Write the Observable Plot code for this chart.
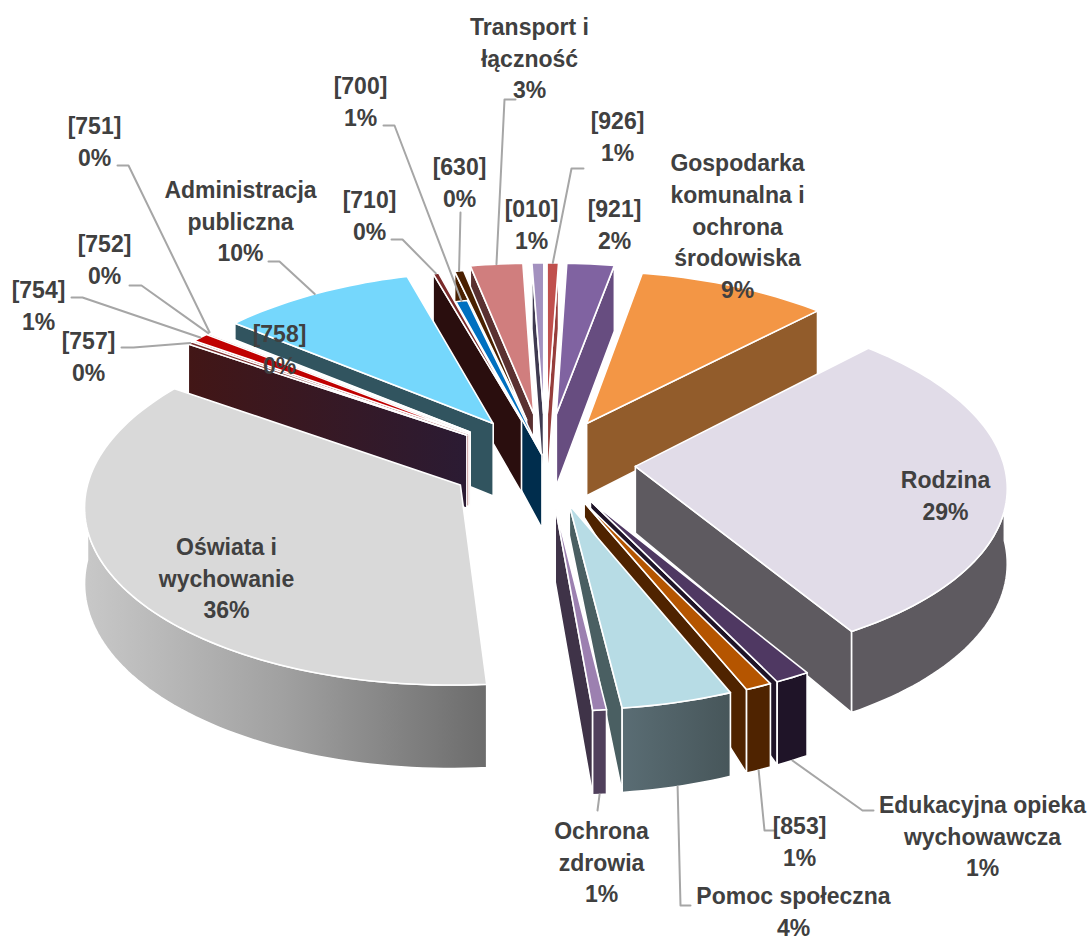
<!DOCTYPE html>
<html><head><meta charset="utf-8">
<script src="https://cdn.jsdelivr.net/npm/d3@7"></script>
<script src="https://cdn.jsdelivr.net/npm/@observablehq/plot@0.6"></script>
<style>html,body{margin:0;padding:0;background:#fff}svg{display:block}</style>
</head><body><div id="chart"></div>
<script>
// slices, clockwise from the first slice angle
const names   = ["Gospodarka","Rodzina","Edukacyjna","853","Pomoc","Ochrona","Oswiata","757","754","752","751","758","Administracja","710","700","630","Transport","010","926","921"];
const values  = [9.33,29.17,1.36,1.03,4.31,0.53,35.97,0.28,0.83,0.08,0.08,0.11,9.58,0.28,0.56,0.44,2.58,0.58,0.56,2.33];
const explode = [.25,.245,.25,.25,.25,.25,.264,.265,.265,.267,.268,.27,.265,.25,.04,.25,.28,.28,.28,.28];
const apexWall= [1,.9,.1,.2,.4,1,1,1,1,1,1,1,1,1,1,1,1,1,1,1];
const topFill = ["#f39645","#e1dce8","#4f3862","#b55500","#b7dce5","#9c80b0","#d9d9d9","#7b2b2b","#c00000","#d8a0a0","#d9b8b8","#e0c8c8","#75d7fc","#7a2a2a","#0070c0","#4a2000","#d07e7e","#a391bf","#c0504d","#8063a1"];
const edgeFill= ["#925c2b","#5e5a60","#1f1428","#4f2300","#4a5f62","#3f3348","#6f6f6f","url(#g757)","#7a1010","#a07070","#a08080","#a09090","#31545f","#2a0e0e","#002d4d","#4a2000","#5a3030","#3f3a50","#963e3c","#674d80"];
const outerFill=["#925c2b","#5e5a60","#1f1428","#4f2300","url(#gPomoc)","#50405c","url(#gOswiata)","#401515","#7a1010","#a07070","#a08080","#a09090","#31545f","#2a0e0e","#002d4d","#4a2000","#5a3030","#3f3a50","#963e3c","#674d80"];

// labels: text, centre x, middle y
const labelText = ["Transport i\nłączność\n3%","[926]\n1%","[921]\n2%","[010]\n1%","[630]\n0%","[700]\n1%","[710]\n0%","[751]\n0%","Administracja\npubliczna\n10%","[752]\n0%","[754]\n1%","[757]\n0%","[758]\n0%","Gospodarka\nkomunalna i\nochrona\nśrodowiska\n9%","Rodzina\n29%","Oświata i\nwychowanie\n36%","Ochrona\nzdrowia\n1%","Pomoc społeczna\n4%","[853]\n1%","Edukacyjna opieka\nwychowawcza\n1%"];
const labelX = [529,617,614,531,459,360,369,94,240,104,38,88,279,737,945,226,601,793,799,982];
const labelY = [56,134,222,222,180,99,213,139,219,257,303,354,347,224,493,576,860,909,839,834];

// leader lines: slice, label-side points, fraction across the slice's arc
const leaderSlice = ["Transport","926","630","700","710","751","Administracja","752","754","757","Ochrona","Pomoc","853","Edukacyjna"];
const leaderPath  = [[[515,99],[504,99]],[[583,168],[571,168]],[[460,212]],[[383,125],[394,125]],[[391,239],[402,239]],[[117,165],[128,165]],[[268,261],[279,261]],[[129,285],[141,285]],[[71,297],[82,297]],[[121,347],[133,347]],[[597,810]],[[690,905],[680,905]],[[775,830],[764,830]],[[873,810],[862,810]]];
const leaderFrac  = [.5,.5,.5,.5,.5,.5,.5,.5,.5,.5,.5,.5,.5,.5];

// pie projection (plan view -> page)
const cx=545, cy=461, RX=368, RY=175, H=74, K=.1, A0=10.4;
const rad=d=>d*Math.PI/180;
const project=(X,Z,drop=0)=>{const p=1/(1-K*Z);return [cx+RX*X*p, cy+RY*Z*p+H*p*drop];};
const total=d3.sum(values);
let acc=A0;
const slices=names.map((name,i)=>{
  const a0=acc, a1=acc+values[i]*360/total; acc=a1;
  const m=(a0+a1)/2, ex=explode[i]*Math.sin(rad(m)), ez=-explode[i]*Math.cos(rad(m));
  const pt=(a,drop=0)=>project(ex+Math.sin(rad(a)),ez-Math.cos(rad(a)),drop);
  const apex=(drop=0)=>project(ex,ez,drop);
  return {i,name,a0,a1,m,pt,apex,sortZ:-Math.cos(rad(m))};
});
const arc=(s,a0,a1,drop=0)=>{const n=Math.max(2,Math.ceil(Math.abs(a1-a0)/1.5));return d3.range(n+1).map(k=>s.pt(a0+(a1-a0)*k/n,drop));};
const cross=(a,b,c)=>(b[0]-a[0])*(c[1]-a[1])-(b[1]-a[1])*(c[0]-a[0]);

const poly=(pts,fill)=>Plot.line([...pts,pts[0]],{x:d=>d[0],y:d=>d[1],fill,stroke:"#fff",strokeWidth:1.6,strokeLinejoin:"round",curve:"linear"});
const marks=[];
const defs=()=>{const s=d3.create("svg:defs");
  const g=(id,stops)=>{const l=s.append("linearGradient").attr("id",id);stops.forEach(([o,c])=>l.append("stop").attr("offset",o).attr("stop-color",c));};
  g("gOswiata",[[0,"#c8c8c8"],[.5,"#a0a0a0"],[1,"#6c6c6c"]]);
  g("gPomoc",[[0,"#5a6d74"],[1,"#47565a"]]);
  g("g757",[[0,"#421616"],[1,"#2b1b33"]]);
  return s.node();};
marks.push(defs);
[...slices].sort((a,b)=>a.sortZ-b.sortZ).forEach(s=>{
  const A=s.apex(), M=s.pt(s.m), i=s.i;
  for(const a of [s.a0,s.a1]){
    const B=s.pt(a);
    const side=cross(A,B,M), down=cross(A,B,[A[0],A[1]+1]);
    if(side*down<0){
      marks.push(poly([A,B,s.pt(a,1),s.apex(apexWall[i])],edgeFill[i]));
    }
  }
  const lo=Math.max(s.a0,90), hi=Math.min(s.a1,270);
  if(hi>lo){
    marks.push(poly([...arc(s,lo,hi),...arc(s,hi,lo,1)],outerFill[i]));
  }
  marks.push(poly([A,...arc(s,s.a0,s.a1)],topFill[i]));
});
leaderSlice.forEach((n,j)=>{
  const s=slices.find(d=>d.name===n), a=s.a0+(s.a1-s.a0)*leaderFrac[j];
  const front=Math.cos(rad(a))<0;
  const end=s.pt(a,front?1:0);
  marks.push(Plot.line([...leaderPath[j],end],{x:d=>d[0],y:d=>d[1],stroke:"#a6a6a6",strokeWidth:2,curve:"linear"}));
});
const labelRows=labelText.map((text,i)=>({text,x:labelX[i],y:labelY[i]}));
marks.push(Plot.text(labelRows,{x:"x",y:"y",text:"text",fill:"#404040",fontFamily:"'Liberation Sans Narrow','Liberation Sans',sans-serif",fontWeight:"bold",fontSize:23,lineHeight:1.38,textAnchor:"middle",lineAnchor:"middle"}));

document.getElementById("chart").append(Plot.plot({
  width:1089,height:940,margin:0,
  x:{domain:[0,1089],range:[0,1089],axis:null},
  y:{domain:[0,940],range:[0,940],axis:null},
  marks
}));
</script></body></html>
